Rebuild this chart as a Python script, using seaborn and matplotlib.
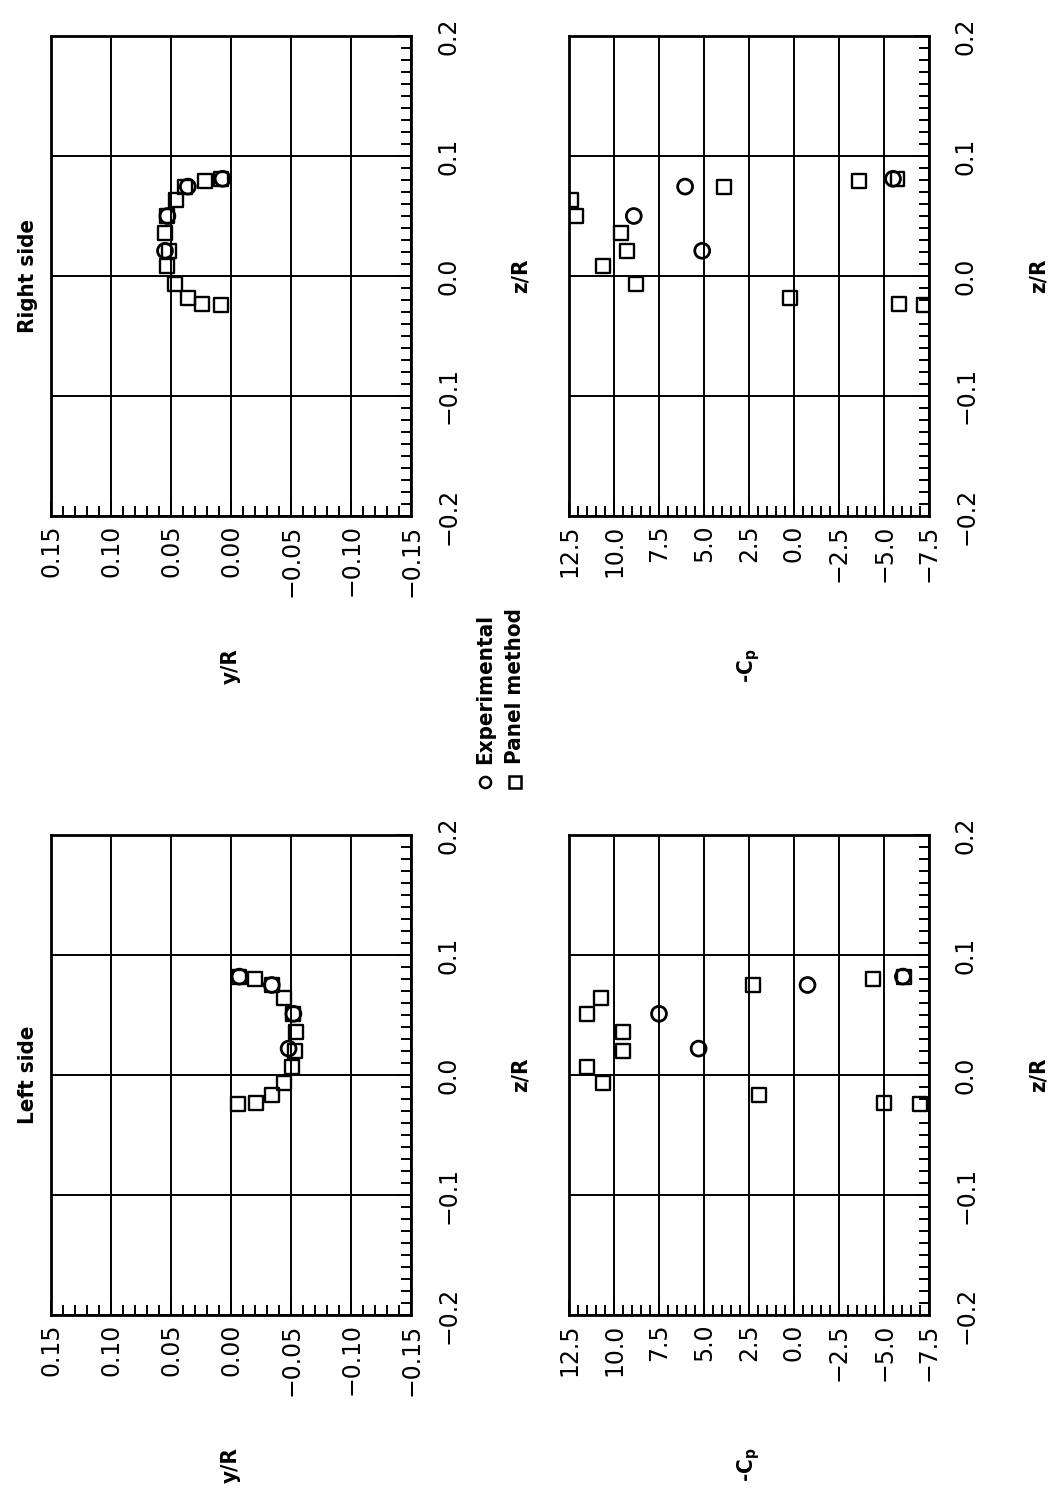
# Librerias necesarias
import seaborn as sns
import matplotlib.pyplot as plt
from matplotlib.lines import Line2D
from matplotlib.ticker import MultipleLocator

# Datos: lado derecho (metodo de paneles y experimental)
z_panel_der = [-0.024, -0.023, -0.018, -0.007, 0.008, 0.021, 0.036, 0.050, 0.063, 0.074, 0.079, 0.081]
y_panel_der = [0.008, 0.024, 0.036, 0.047, 0.053, 0.052, 0.055, 0.053, 0.046, 0.038, 0.022, 0.008]
cp_panel_der = [-7.2, -5.85, 0.2, 8.8, 10.6, 9.3, 9.6, 12.1, 12.4, 3.9, -3.6, -5.75]
z_exp_der = [0.021, 0.050, 0.0745, 0.081]
y_exp_der = [0.055, 0.053, 0.036, 0.007]
cp_exp_der = [5.1, 8.9, 6.05, -5.5]

# Datos: lado izquierdo
z_panel_izq = [-0.024, -0.023, -0.017, -0.007, 0.007, 0.020, 0.036, 0.051, 0.064, 0.075, 0.080, 0.082]
y_panel_izq = [-0.006, -0.021, -0.034, -0.044, -0.051, -0.053, -0.054, -0.052, -0.044, -0.034, -0.020, -0.007]
cp_panel_izq = [-7.0, -5.0, 1.95, 10.6, 11.5, 9.5, 9.5, 11.5, 10.7, 2.3, -4.4, -6.1]
z_exp_izq = [0.022, 0.051, 0.075, 0.082]
y_exp_izq = [-0.048, -0.052, -0.034, -0.007]
cp_exp_izq = [5.3, 7.5, -0.75, -6.05]

# Marcas de los ejes
z_ticks = [-0.2, -0.1, 0.0, 0.1, 0.2]
z_labels = ['\u22120.2', '\u22120.1', '0.0', '0.1', '0.2']
y_ticks = [0.15, 0.10, 0.05, 0.0, -0.05, -0.10, -0.15]
y_labels = ['0.15', '0.10', '0.05', '0.00', '\u22120.05', '\u22120.10', '\u22120.15']
cp_ticks = [12.5, 10.0, 7.5, 5.0, 2.5, 0.0, -2.5, -5.0, -7.5]
cp_labels = ['12.5', '10.0', '7.5', '5.0', '2.5', '0.0', '\u22122.5', '\u22125.0', '\u22127.5']

sns.set_theme(style='white')
plt.rcParams['font.family'] = ['DejaVu Sans']
plt.rcParams['font.size'] = 17
plt.rcParams['text.color'] = 'black'
plt.rcParams['axes.labelcolor'] = 'black'
plt.rcParams['xtick.color'] = 'black'
plt.rcParams['ytick.color'] = 'black'

# Fuente estrecha y en negrita para titulos, ejes y leyenda
negrita = dict(family=['DejaVu Sans', 'Liberation Sans'], stretch='condensed', weight='bold', size=16)
CP_TEXTO = '-C$_\\mathregular{p}$'

W, H = 1050, 1488
fig = plt.figure(figsize=(W / 100, H / 100), dpi=100)


def crear_ejes(izq, arriba, ancho=360, alto=480):
    """Crea unos ejes a partir de posiciones en pixeles"""
    return fig.add_axes([izq / W, 1 - (arriba + alto) / H, ancho / W, alto / H])


def dibujar_panel(ax, x_pan, z_pan, x_exp, z_exp, ticks, labels, menor, lim, etiqueta, titulo=None):
    """Dibuja un panel girado: eje horizontal = variable, eje vertical = z/R"""
    sns.scatterplot(x=x_exp, y=z_exp, ax=ax, marker='o', s=115, facecolor='none',
                    edgecolor='black', linewidth=2.0, zorder=4)
    sns.scatterplot(x=x_pan, y=z_pan, ax=ax, marker='s', s=100, facecolor='none',
                    edgecolor='black', linewidth=1.7, zorder=5)
    ax.set_xlim(lim)
    ax.set_ylim(-0.2, 0.2)
    ax.set_xticks(ticks, labels)
    ax.set_yticks(z_ticks, z_labels)
    ax.xaxis.set_minor_locator(MultipleLocator(menor))
    ax.yaxis.set_minor_locator(MultipleLocator(0.01))
    ax.yaxis.tick_right()
    ax.tick_params(which='both', direction='in', color='black', width=1.4,
                   top=False, left=False, bottom=True, right=True,
                   labelleft=False, labelright=True, labelsize=17, labelcolor='black')
    ax.tick_params(which='major', length=11)
    ax.tick_params(which='minor', length=7)
    ax.tick_params(axis='x', labelrotation=90, pad=6)
    ax.tick_params(axis='y', labelrotation=90, pad=18)
    for t in ax.get_yticklabels():
        t.set_verticalalignment('center')
    ax.grid(True, which='major', color='black', linewidth=1.4)
    for s in ax.spines.values():
        s.set_linewidth(2.0)
        s.set_color('black')

    # Etiquetas de los ejes
    ax.set_xlabel(etiqueta, rotation=90, **negrita)
    ax.xaxis.label.set_verticalalignment('center')
    ax.xaxis.set_label_coords(0.5, -150 / 480)
    ax.yaxis.set_label_position('right')
    ax.set_ylabel('z/R', rotation=90, **negrita)
    ax.yaxis.label.set_horizontalalignment('center')
    ax.yaxis.label.set_verticalalignment('center')
    ax.yaxis.set_label_coords(1 + 110 / 360, 0.5)
    if titulo:
        ax.text(-23 / 360, 0.5, titulo, transform=ax.transAxes, rotation=90,
                ha='center', va='center', **negrita)


ax1 = crear_ejes(51, 36)
dibujar_panel(ax1, y_panel_der, z_panel_der, y_exp_der, z_exp_der,
              y_ticks, y_labels, 0.01, (0.15, -0.15), 'y/R', 'Right side')
ax2 = crear_ejes(569, 36)
dibujar_panel(ax2, cp_panel_der, z_panel_der, cp_exp_der, z_exp_der,
              cp_ticks, cp_labels, 0.5, (12.5, -7.5), CP_TEXTO)
ax3 = crear_ejes(51, 835)
dibujar_panel(ax3, y_panel_izq, z_panel_izq, y_exp_izq, z_exp_izq,
              y_ticks, y_labels, 0.01, (0.15, -0.15), 'y/R', 'Left side')
ax4 = crear_ejes(569, 835)
dibujar_panel(ax4, cp_panel_izq, z_panel_izq, cp_exp_izq, z_exp_izq,
              cp_ticks, cp_labels, 0.5, (12.5, -7.5), CP_TEXTO)

# Leyenda girada, construida a mano
for x, marca, texto in [(485, 'o', 'Experimental'), (515, 's', 'Panel method')]:
    fig.add_artist(Line2D([x / W], [1 - 782 / H], transform=fig.transFigure, marker=marca,
                          markersize=8, markerfacecolor='none', markeredgecolor='black',
                          markeredgewidth=1.8, linestyle='none'))
    fig.text(x / W, 1 - 764 / H, texto, rotation=90, ha='center', va='bottom', **negrita)

fig.savefig('out.png', dpi=100)
